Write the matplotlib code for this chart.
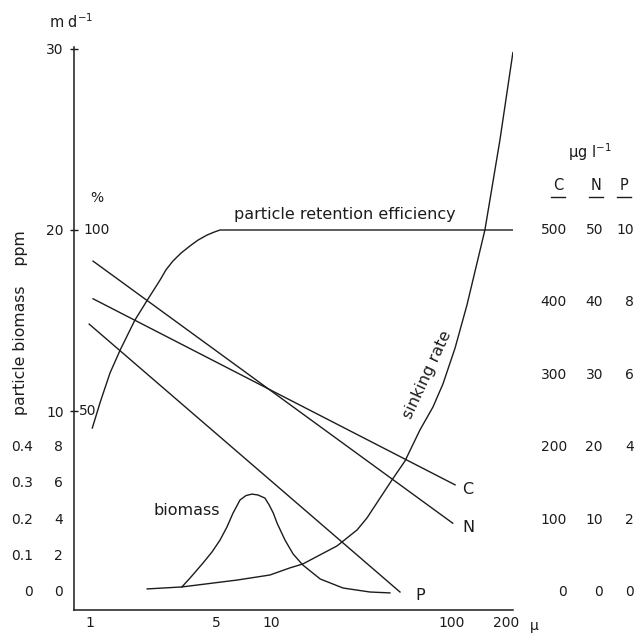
import matplotlib
matplotlib.use('Agg')
import matplotlib.pyplot as plt
from matplotlib.lines import Line2D
from matplotlib.transforms import blended_transform_factory

# particle size in micrometres
retention_size = [1.03, 1.14, 1.29, 1.47, 1.77, 2.09, 2.44, 2.63, 2.87, 3.18, 3.57,
                  3.95, 4.43, 4.84, 5.23, 217]
retention_pct = [45.3, 52.5, 60.5, 66.9, 75.1, 80.9, 86.2, 89.0, 91.4, 93.6, 95.6,
                 97.2, 98.6, 99.4, 100, 100]

sinking_size = [2.07, 3.22, 6.49, 9.87, 12.7, 15.0, 23.2, 29.9, 33.9, 46.6, 55.0,
                66.5, 78.5, 89.1, 104, 121, 152, 184, 217]
sinking_rate = [0.17, 0.28, 0.66, 0.94, 1.33, 1.55, 2.55, 3.43, 4.09, 6.19, 7.24,
                8.95, 10.22, 11.49, 13.48, 15.86, 20.0, 24.97, 29.8]  # m/d

biomass_size = [3.22, 3.57, 4.21, 4.72, 5.23, 5.71, 6.17, 6.74, 7.28, 7.85, 8.47,
                9.26, 9.77, 10.3, 10.8, 11.95, 13.25, 15.0, 18.7, 25.0, 35.2, 45.4]
biomass_ppm = [0.28, 0.77, 1.60, 2.21, 2.87, 3.59, 4.36, 5.08, 5.33, 5.41, 5.36,
               5.19, 4.81, 4.36, 3.81, 2.87, 2.10, 1.49, 0.72, 0.22, 0.0, -0.05]

c_size = [1.04, 104]
c_ugl = [405, 148]
n_size = [1.04, 101]
n_ugl = [45.7, 9.5]
p_size = [0.99, 51.6]
p_ugl = [7.4, 0.0]

# scale factors onto the m/d axis
PCT = 5.0
C_F, N_F, P_F = 25.0, 2.5, 0.5

md_ticks = [10, 20, 30]
ppm_ticks = [0, 2, 4, 6, 8]
biomass_labels = ['0', '0.1', '0.2', '0.3', '0.4']
c_ticks = [0, 100, 200, 300, 400, 500]
n_ticks = [0, 10, 20, 30, 40, 50]
p_ticks = [0, 2, 4, 6, 8, 10]
x_ticks = [1, 5, 10, 100, 200]

W, H = 635, 634
ink = '#1c1c1c'
plt.rcParams['font.family'] = 'DejaVu Sans'

fig = plt.figure(figsize=(W / 100, H / 100), dpi=100)
ax = fig.add_axes([74 / W, 24 / H, (513 - 74) / W, (610 - 47) / H])
ax.set_xscale('log')
ax.set_xlim(0.816, 217.3)
ax.set_ylim(-0.994, 30.11)

lw = 1.0
ax.plot(retention_size, [v / PCT for v in retention_pct], color=ink, lw=lw)
ax.plot(sinking_size, sinking_rate, color=ink, lw=lw)
ax.plot(biomass_size, biomass_ppm, color=ink, lw=lw)
ax.plot(c_size, [v / C_F for v in c_ugl], color=ink, lw=lw)
ax.plot(n_size, [v / N_F for v in n_ugl], color=ink, lw=lw)
ax.plot(p_size, [v / P_F for v in p_ugl], color=ink, lw=lw)

for s in ['top', 'right']:
    ax.spines[s].set_visible(False)
for s in ['left', 'bottom']:
    ax.spines[s].set_color(ink)
    ax.spines[s].set_linewidth(1.1)

ax.set_yticks(md_ticks)
ax.set_yticklabels([str(t) for t in md_ticks])
ax.tick_params(axis='y', direction='inout', length=6, width=1, pad=4.5,
               labelsize=10, colors=ink)
ax.set_xticks(x_ticks)
ax.set_xticklabels([str(t) for t in x_ticks])
ax.xaxis.set_minor_locator(matplotlib.ticker.NullLocator())
ax.tick_params(axis='x', length=0, pad=4, labelsize=10, colors=ink)

# curve labels
ax.text(25.5, 20.88, 'particle retention efficiency', fontsize=11.5, color=ink,
        ha='center', va='center')
ax.text(72.8, 12.0, 'sinking rate', fontsize=11.5, color=ink, rotation=65,
        ha='center', va='center', rotation_mode='anchor')
ax.text(3.44, 4.48, 'biomass', fontsize=11.5, color=ink, ha='center', va='center')
ax.text(122.5, 5.64, 'C', fontsize=11.5, color=ink, ha='center', va='center')
ax.text(124, 3.54, 'N', fontsize=11.5, color=ink, ha='center', va='center')
ax.text(66.5, -0.17, 'P', fontsize=11.5, color=ink, ha='center', va='center')

# extra left scales
tr = blended_transform_factory(fig.transFigure, ax.transData)
for v, lab in zip(ppm_ticks, biomass_labels):
    fig.text(63 / W, v, str(v), transform=tr, fontsize=10, color=ink,
             ha='right', va='center')
    fig.text(33 / W, v, lab, transform=tr, fontsize=10, color=ink,
             ha='right', va='center')
fig.text(83 / W, 100 / PCT, '100', transform=tr, fontsize=10, color=ink,
         ha='left', va='center')
fig.text(79 / W, 50 / PCT, '50', transform=tr, fontsize=10, color=ink,
         ha='left', va='center')
fig.text(97 / W, 1 - 198 / H, '%', fontsize=10, color=ink, ha='center', va='center')
fig.text(71 / W, 1 - 22 / H, 'm d$^{-1}$', fontsize=10.5, color=ink,
         ha='center', va='center')
fig.text(21 / W, 1 - 323 / H, 'particle biomass    ppm', fontsize=11.3, color=ink,
         rotation=90, ha='center', va='center')

# right scales C, N, P
for c, n, p in zip(c_ticks, n_ticks, p_ticks):
    fig.text(567 / W, c / C_F, str(c), transform=tr, fontsize=10, color=ink,
             ha='right', va='center')
    fig.text(603 / W, n / N_F, str(n), transform=tr, fontsize=10, color=ink,
             ha='right', va='center')
    fig.text(634 / W, p / P_F, str(p), transform=tr, fontsize=10, color=ink,
             ha='right', va='center')
fig.text(590 / W, 1 - 152 / H, 'µg l$^{-1}$', fontsize=10.5, color=ink,
         ha='center', va='center')
for lab, xc in zip(['C', 'N', 'P'], [558, 596, 624]):
    fig.text(xc / W, 1 - 186 / H, lab, fontsize=10.5, color=ink,
             ha='center', va='center')
    fig.add_artist(Line2D([(xc - 7) / W, (xc + 7) / W], [1 - 197 / H, 1 - 197 / H],
                          transform=fig.transFigure, color=ink, lw=1.0))
fig.text(534 / W, 1 - 626 / H, 'µ', fontsize=10, color=ink, ha='center', va='center')

fig.savefig('out.png', dpi=100)
